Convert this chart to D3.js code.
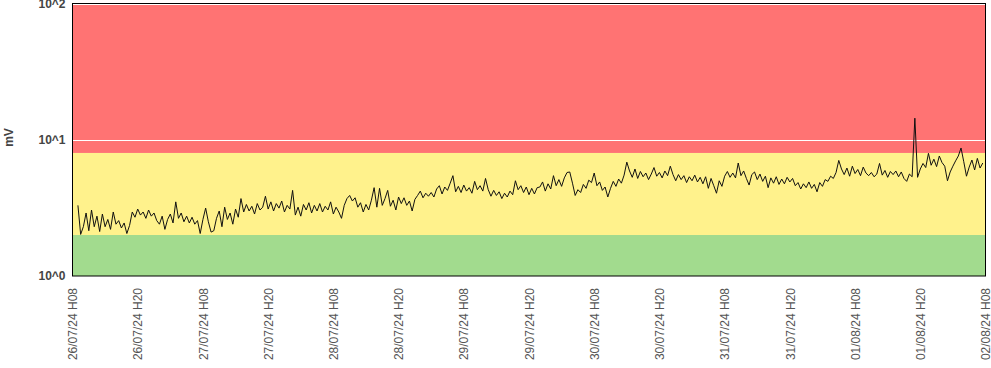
<!DOCTYPE html>
<html><head><meta charset="utf-8">
<script src="https://cdn.jsdelivr.net/npm/d3@7"></script>
<style>body{margin:0;background:#fff}svg{display:block}</style>
</head><body><svg id="c" width="991" height="368"></svg>
<script>
// ---- data ----
const startTime = new Date(2024, 6, 26, 9, 0);   // first sample
const stepMinutes = 30;
const values = [
 3.30,2.02,2.30,2.90,2.15,3.05,2.30,2.75,2.12,2.85,
 2.30,2.60,2.20,2.95,2.40,2.55,2.25,2.45,2.05,2.35,
 2.95,2.70,3.10,2.80,2.95,2.65,3.05,2.75,2.90,2.55,
 2.40,2.75,2.20,2.60,2.85,2.45,3.50,2.65,2.90,2.50,
 2.75,2.45,2.70,2.40,2.55,2.05,2.60,3.15,2.50,2.10,
 2.15,2.65,3.00,2.30,3.20,2.60,2.90,2.40,3.10,2.70,
 3.70,2.95,3.35,3.00,3.25,2.85,3.40,3.05,3.20,3.85,
 3.10,3.50,3.00,3.40,3.15,3.55,2.95,3.30,3.10,4.25,
 2.80,3.20,2.75,3.35,3.05,3.45,2.90,3.30,3.00,3.40,
 2.95,3.25,3.05,3.50,2.85,3.20,2.95,2.65,3.30,3.70,
 3.90,3.55,3.75,3.20,3.45,2.95,3.35,3.05,3.60,4.45,
 3.20,4.40,3.30,3.70,4.25,3.25,3.60,3.05,3.80,3.40,
 3.75,3.30,3.55,3.00,3.65,3.90,4.20,3.75,4.05,3.85,
 4.10,3.80,4.35,4.60,4.00,4.50,4.25,4.80,5.45,4.15,
 4.55,4.10,4.65,4.20,4.45,4.05,4.95,4.30,4.60,4.20,
 5.20,4.30,3.85,4.25,3.90,4.15,3.70,4.05,3.80,4.20,
 3.95,5.00,4.30,4.60,4.10,4.50,3.95,4.40,4.00,4.45,
 4.50,4.90,4.20,4.75,4.35,5.45,4.60,5.10,4.55,5.25,
 5.75,5.80,4.80,3.90,4.30,4.10,4.70,4.40,5.05,4.85,
 5.70,4.60,4.90,4.25,4.50,3.80,4.40,4.95,4.55,5.15,
 4.80,5.50,6.85,5.90,5.30,6.10,5.20,5.85,5.35,5.70,
 5.10,5.60,6.25,5.40,5.75,5.25,5.90,5.45,6.40,5.55,
 5.00,5.55,5.10,5.45,4.85,5.35,5.00,5.50,4.90,5.30,
 4.75,5.35,4.40,5.20,4.60,4.05,5.00,4.55,5.40,5.85,
 5.30,5.70,5.25,6.75,5.45,5.90,5.20,4.65,5.55,5.80,
 5.10,5.60,4.95,5.40,4.45,5.25,4.80,5.35,4.70,5.15,
 4.75,5.30,4.90,5.20,4.60,4.85,4.35,4.75,4.45,4.90,
 4.40,4.70,4.15,4.85,4.55,5.10,4.95,5.40,5.20,5.75,
 7.05,6.10,5.55,6.20,5.40,6.40,5.65,6.05,5.45,6.30,
 5.70,5.45,5.75,5.35,5.60,6.70,5.50,5.95,5.30,5.85,
 5.55,5.90,5.35,5.80,5.20,4.95,5.60,5.35,14.40,5.30,
 6.10,6.70,6.25,7.95,6.50,7.20,6.35,7.60,6.80,6.40,
 5.00,5.80,6.40,7.00,7.60,8.70,6.90,5.40,6.30,7.10,
 6.00,7.30,6.20,6.75
];
const axisStart = new Date(2024, 6, 26, 8, 0);
const axisEnd = new Date(2024, 7, 2, 8, 0);
const xTickStepHours = 12;
const yTickValues = [1, 10, 100];
const yTickLabels = ["10^0", "10^1", "10^2"];
const bandLimits = [1, 2, 8, 100];           // green, yellow, red
const bandColors = ["#a2db8e", "#fff28c", "#ff7373"];
const yTitle = "mV";

// ---- layout ----
const L = 72.5, R = 985.5, T = 3.5, B = 276;
const svg = d3.select("#c");
const font = "'Liberation Sans', Arial, sans-serif";

const x = d3.scaleTime().domain([axisStart, axisEnd]).range([L, R]);
const y = d3.scaleLog().domain([1, 100]).range([B, T]);

const data = values.map((v, i) => ({ t: new Date(startTime.getTime() + i * stepMinutes * 60000), v }));

// bands
for (let i = 0; i < bandColors.length; i++) {
  svg.append("rect")
    .attr("x", L).attr("width", R - L)
    .attr("y", y(bandLimits[i + 1])).attr("height", y(bandLimits[i]) - y(bandLimits[i + 1]))
    .attr("fill", bandColors[i]);
}
// grid
svg.append("g").selectAll("line").data(yTickValues).join("line")
  .attr("x1", L).attr("x2", R)
  .attr("y1", d => Math.round(y(d)) + 0.5).attr("y2", d => Math.round(y(d)) + 0.5)
  .attr("stroke", "#fff").attr("stroke-width", 1);

// line
const clip = svg.append("clipPath").attr("id", "clp").append("rect")
  .attr("x", L).attr("y", T).attr("width", R - L).attr("height", B - T);
svg.append("path").datum(data)
  .attr("clip-path", "url(#clp)")
  .attr("fill", "none").attr("stroke", "#111").attr("stroke-width", 1)
  .attr("stroke-linejoin", "round")
  .attr("d", d3.line().x(d => x(d.t)).y(d => y(d.v)));

// frame
svg.append("rect").attr("x", L).attr("y", T).attr("width", R - L).attr("height", B - T)
  .attr("fill", "none").attr("stroke", "#000").attr("stroke-width", 1);

// x axis
const xTicks = [];
for (let t = axisStart.getTime(); t <= axisEnd.getTime(); t += xTickStepHours * 3600000) xTicks.push(new Date(t));
const xAxis = svg.append("g").attr("transform", `translate(0,${B})`)
  .call(d3.axisBottom(x).tickValues(xTicks).tickFormat(d3.timeFormat("%d/%m/%y H%H")).tickSize(0).tickPadding(0));
xAxis.select(".domain").remove();
xAxis.selectAll("text")
  .attr("transform", "rotate(-90)")
  .attr("x", -12).attr("y", 0).attr("dy", "0.35em")
  .attr("text-anchor", "end")
  .attr("fill", "#555").style("font-family", font).style("font-size", "12px");

// y axis
const yAxis = svg.append("g").attr("transform", `translate(${L},0)`)
  .call(d3.axisLeft(y).tickValues(yTickValues).tickFormat((d, i) => yTickLabels[i]).tickSize(0).tickPadding(7));
yAxis.select(".domain").remove();
yAxis.selectAll("text")
  .attr("fill", "#444").style("font-family", font).style("font-size", "12px").style("font-weight", "bold");

// y title
svg.append("text").attr("transform", "translate(8.5,137.5) rotate(-90)")
  .attr("text-anchor", "middle").attr("dy", "0.35em")
  .attr("fill", "#444").style("font-family", font).style("font-size", "12px").style("font-weight", "bold")
  .text(yTitle);
</script></body></html>
